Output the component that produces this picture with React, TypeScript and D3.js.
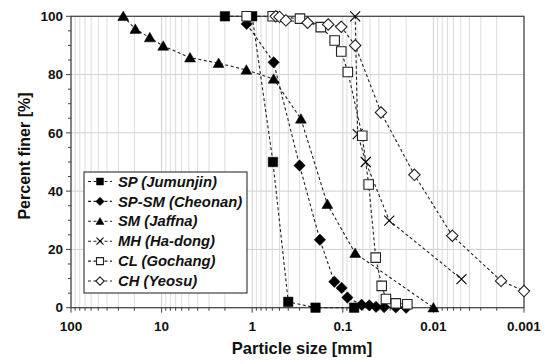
import React from "react";
import * as d3 from "d3";

const xTickValues = [100, 10, 1, 0.1, 0.01, 0.001];
const xTickLabels = ["100", "10", "1", "0.1", "0.01", "0.001"];
const yTickValues = [0, 20, 40, 60, 80, 100];

const spSize = [2.0, 1.0, 0.59, 0.4, 0.2, 0.075];
const spPct = [100, 100, 50, 2, 0, 0];

const spsmSize = [1.15, 0.58, 0.3, 0.179, 0.124, 0.103, 0.089, 0.062, 0.051, 0.043, 0.035, 0.026, 0.02];
const spsmPct = [97.4, 84.2, 48.8, 23.3, 8.9, 6.8, 3.5, 1.0, 0.8, 0.3, 0.2, 0.1, 0];

const smSize = [26.5, 19.5, 13.5, 9.6, 4.85, 2.35, 1.16, 0.58, 0.29, 0.148, 0.073, 0.01];
const smPct = [100, 95.6, 92.7, 89.8, 85.8, 83.9, 81.6, 78.5, 64.8, 35.5, 18.7, 0];

const mhSize = [0.073, 0.0685, 0.0558, 0.0307, 0.0049];
const mhPct = [100, 59.6, 50, 29.9, 9.8];

const clSize = [1.15, 0.594, 0.297, 0.175, 0.123, 0.104, 0.088, 0.061, 0.0518, 0.0433, 0.0372, 0.0334, 0.026, 0.0194];
const clPct = [100, 100, 99.2, 96.3, 91.7, 87.9, 80.9, 59, 42.3, 17.2, 7.5, 3, 1.5, 1.2];

const chSize = [0.55, 0.5, 0.425, 0.245, 0.145, 0.104, 0.073, 0.0379, 0.0162, 0.00618, 0.00179, 0.001];
const chPct = [100, 99.8, 98.6, 97.8, 97.2, 96.4, 90, 67, 45.6, 24.7, 9.2, 5.7];

const seriesNames = ["SP (Jumunjin)", "SP-SM (Cheonan)", "SM (Jaffna)", "MH (Ha-dong)", "CL (Gochang)", "CH (Yeosu)"];
const seriesMarkers = ["sqF", "diaF", "triF", "x", "sqO", "diaO"];

const W = 548, H = 364;
const L = 71, R = 524, T = 16.3, B = 307.7;
const FONT = "'Liberation Sans', Arial, sans-serif";

function markerPath(kind: string, cx: number, cy: number, s: number): string {
  const h = s / 2;
  if (kind === "sqF" || kind === "sqO") {
    return `M${cx - h},${cy - h}H${cx + h}V${cy + h}H${cx - h}Z`;
  }
  if (kind === "diaF" || kind === "diaO") {
    const d = h * 1.2;
    return `M${cx},${cy - d}L${cx + d},${cy}L${cx},${cy + d}L${cx - d},${cy}Z`;
  }
  if (kind === "triF") {
    const w = h * 1.15;
    return `M${cx},${cy - h * 1.1}L${cx + w},${cy + h * 0.9}L${cx - w},${cy + h * 0.9}Z`;
  }
  return `M${cx - h},${cy - h}L${cx + h},${cy + h}M${cx - h},${cy + h}L${cx + h},${cy - h}`;
}

function Marker({ kind, cx, cy, s }: { kind: string; cx: number; cy: number; s: number }) {
  const d = markerPath(kind, cx, cy, s);
  if (kind === "x") return <path d={d} fill="none" stroke="#000" strokeWidth={1.1} />;
  if (kind === "sqO" || kind === "diaO") return <path d={d} fill="#fff" stroke="#222" strokeWidth={1.1} />;
  return <path d={d} fill="#000" stroke="#000" strokeWidth={0.5} />;
}

export default function App() {
  const x = d3.scaleLog().domain([100, 0.001]).range([L, R]);
  const y = d3.scaleLinear().domain([0, 100]).range([B, T]);

  const series = [
    { size: spSize, pct: spPct },
    { size: spsmSize, pct: spsmPct },
    { size: smSize, pct: smPct },
    { size: mhSize, pct: mhPct },
    { size: clSize, pct: clPct },
    { size: chSize, pct: chPct },
  ];

  const line = d3.line<[number, number]>().x((d) => x(d[0])).y((d) => y(d[1]));

  const minorX: number[] = [];
  for (let e = -3; e < 2; e++) {
    for (let m = 2; m <= 9; m++) minorX.push(m * Math.pow(10, e));
  }
  const minorY = d3.range(0, 101, 5);

  const legendX = 84, legendY = 172, legendW = 163, legendH = 121;
  const legendStep = 19.9;

  return (
    <svg width={W} height={H} style={{ position: "absolute", left: 0, top: 0, display: "block" }} fontFamily={FONT}>
      <rect x={0} y={0} width={W} height={H} fill="#fff" />
      {minorX.map((v, i) => (
        <line key={"gx" + i} x1={x(v)} x2={x(v)} y1={T} y2={B} stroke="#dcdcdc" strokeWidth={1} />
      ))}
      {xTickValues.map((v, i) => (
        <line key={"gX" + i} x1={x(v)} x2={x(v)} y1={T} y2={B} stroke="#d0d0d0" strokeWidth={1} />
      ))}
      {yTickValues.map((v, i) => (
        <line key={"gy" + i} x1={L} x2={R} y1={y(v)} y2={y(v)} stroke="#d0d0d0" strokeWidth={1} />
      ))}
      <rect x={L} y={T} width={R - L} height={B - T} fill="none" stroke="#404040" strokeWidth={1.2} />
      {minorY.map((v, i) => (
        <line key={"ty" + i} x1={L - (v % 20 === 0 ? 5 : 3)} x2={L} y1={y(v)} y2={y(v)} stroke="#404040" strokeWidth={1} />
      ))}
      {minorX.map((v, i) => (
        <line key={"tx" + i} x1={x(v)} x2={x(v)} y1={B} y2={B + 3} stroke="#404040" strokeWidth={1} />
      ))}
      {xTickValues.map((v, i) => (
        <line key={"tX" + i} x1={x(v)} x2={x(v)} y1={B} y2={B + 5} stroke="#404040" strokeWidth={1} />
      ))}
      {yTickValues.map((v, i) => (
        <text key={"ly" + i} x={L - 8} y={y(v)} dy="0.35em" textAnchor="end" fontSize={13.5} fontWeight="bold" fill="#111">
          {v}
        </text>
      ))}
      {xTickValues.map((v, i) => (
        <text key={"lx" + i} x={x(v)} y={B + 23} textAnchor="middle" fontSize={13.5} fontWeight="bold" fill="#111">
          {xTickLabels[i]}
        </text>
      ))}
      <text x={302} y={354} textAnchor="middle" fontSize={16.5} fontWeight="bold" fill="#111">
        Particle size [mm]
      </text>
      <text transform={`translate(30,${(T + B) / 2 - 6}) rotate(-90)`} textAnchor="middle" fontSize={16} fontWeight="bold" fill="#111">
        Percent finer [%]
      </text>
      {series.map((s, i) => (
        <path
          key={"ln" + i}
          d={line(s.size.map((v, j) => [v, s.pct[j]] as [number, number])) || ""}
          fill="none"
          stroke="#222"
          strokeWidth={1.1}
          strokeDasharray="3,2.5"
        />
      ))}
      {series.map((s, i) =>
        s.size.map((v, j) => (
          <Marker key={"m" + i + "_" + j} kind={seriesMarkers[i]} cx={x(v)} cy={y(s.pct[j])} s={seriesMarkers[i] === "x" ? 10 : 9.5} />
        ))
      )}
      <rect x={legendX} y={legendY} width={legendW} height={legendH} fill="#fff" stroke="#404040" strokeWidth={1.2} />
      {seriesNames.map((n, i) => {
        const cy = legendY + 9.5 + i * legendStep;
        return (
          <g key={"lg" + i}>
            <line x1={legendX + 4} x2={legendX + 28} y1={cy} y2={cy} stroke="#222" strokeWidth={1.1} strokeDasharray="3,2.5" />
            <Marker kind={seriesMarkers[i]} cx={legendX + 16} cy={cy} s={7} />
            <text x={legendX + 34} y={cy} dy="0.35em" fontSize={14.8} fontWeight="bold" fontStyle="italic" fill="#111">
              {n}
            </text>
          </g>
        );
      })}
    </svg>
  );
}
